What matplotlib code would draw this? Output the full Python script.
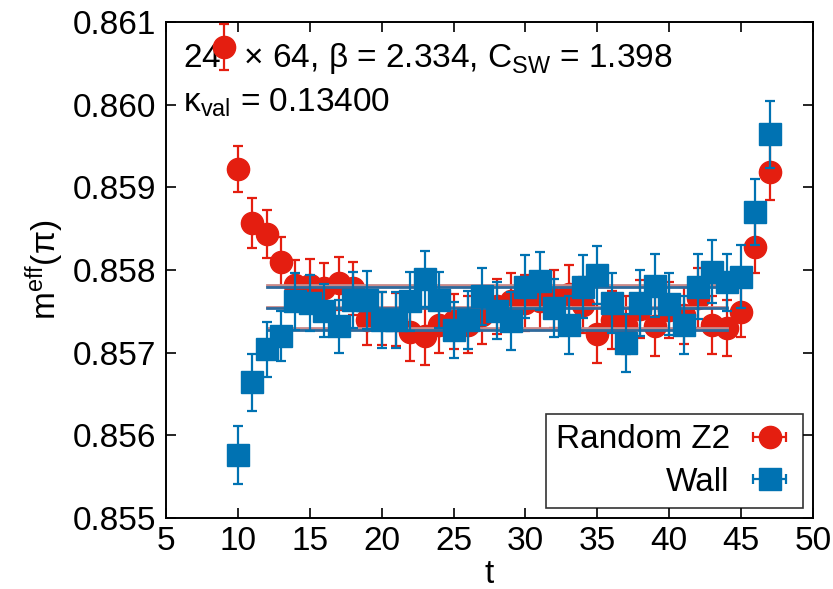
import matplotlib.pyplot as plt
import numpy as np

plt.rcParams.update({'font.size': 24, 'font.family': ['Liberation Sans', 'DejaVu Sans'],
                     'mathtext.fontset': 'custom', 'mathtext.rm': 'Liberation Sans',
                     'mathtext.it': 'Liberation Sans', 'mathtext.sf': 'Liberation Sans'})

# Random Z2 source
t_z2 = np.arange(9, 48)
m_z2 = [0.86070, 0.85922, 0.85857, 0.85844, 0.85810, 0.85782, 0.85782, 0.85778,
        0.85784, 0.85778, 0.85740, 0.85741, 0.85740, 0.85725, 0.85720, 0.85733,
        0.85738, 0.85734, 0.85745, 0.85756, 0.85762, 0.85760, 0.85762, 0.85765,
        0.85771, 0.85758, 0.85723, 0.85740, 0.85733, 0.85753, 0.85732, 0.85752,
        0.85745, 0.85766, 0.85733, 0.85730, 0.85749, 0.85828, 0.85919]
e_z2 = [0.00028, 0.00028, 0.00030, 0.00029, 0.00030, 0.00030, 0.00031, 0.00031,
        0.00032, 0.00032, 0.00031, 0.00032, 0.00032, 0.00035, 0.00035, 0.00033,
        0.00033, 0.00034, 0.00034, 0.00033, 0.00034, 0.00034, 0.00034, 0.00035,
        0.00035, 0.00034, 0.00036, 0.00035, 0.00035, 0.00035, 0.00036, 0.00034,
        0.00035, 0.00036, 0.00035, 0.00034, 0.00030, 0.00031, 0.00034]

# Wall source
t_wall = np.arange(10, 48)
m_wall = [0.85576, 0.85664, 0.85704, 0.85720, 0.85762, 0.85760, 0.85751, 0.85732,
          0.85764, 0.85764, 0.85740, 0.85740, 0.85762, 0.85789, 0.85764, 0.85727,
          0.85740, 0.85768, 0.85751, 0.85738, 0.85780, 0.85787, 0.85754, 0.85733,
          0.85780, 0.85794, 0.85760, 0.85712, 0.85760, 0.85781, 0.85759, 0.85734,
          0.85780, 0.85798, 0.85785, 0.85792, 0.85870, 0.85964]
e_wall = [0.00035, 0.00034, 0.00033, 0.00030, 0.00034, 0.00034, 0.00032, 0.00032,
          0.00034, 0.00035, 0.00034, 0.00034, 0.00036, 0.00034, 0.00034, 0.00034,
          0.00035, 0.00034, 0.00034, 0.00035, 0.00038, 0.00035, 0.00035, 0.00035,
          0.00038, 0.00035, 0.00036, 0.00035, 0.00040, 0.00038, 0.00038, 0.00035,
          0.00039, 0.00038, 0.00034, 0.00038, 0.00040, 0.00040]

# plateau fits
fit_range = [12, 44]
fit_z2, fit_z2_err = 0.857555, 0.00026
fit_wall, fit_wall_err = 0.85754, 0.00026

red = '#e41e10'
blue = '#0072b2'
fitc = '#2f6a9c'

fig = plt.figure(figsize=(8.33, 5.89), dpi=100)
ax = fig.add_axes([0.1993, 0.1205, 0.7767, 0.8421])

ax.errorbar(t_z2, m_z2, yerr=e_z2, fmt='o', color=red, ms=16, elinewidth=1.6,
            capsize=3.5, capthick=1.6, zorder=3)
for v in [fit_z2 - fit_z2_err, fit_z2, fit_z2 + fit_z2_err]:
    ax.plot(fit_range, [v, v], color='#c98a8a', lw=2, zorder=4)
for v in [fit_wall - fit_wall_err, fit_wall, fit_wall + fit_wall_err]:
    ax.plot(fit_range, [v, v], color=fitc, lw=2, zorder=5)
ax.errorbar(t_wall, m_wall, yerr=e_wall, fmt='s', color=blue, ms=15.5, elinewidth=1.6,
            capsize=3.5, capthick=1.6, zorder=6)

# legend proxies with horizontal bars like the original
h1 = ax.errorbar([np.nan], [np.nan], xerr=[1], fmt='o', color=red, ms=16,
                 elinewidth=1.6, capsize=3.5, capthick=1.6)
h2 = ax.errorbar([np.nan], [np.nan], xerr=[1], fmt='s', color=blue, ms=15.5,
                 elinewidth=1.6, capsize=3.5, capthick=1.6)
leg = ax.legend([h1, h2], ['Random Z2', 'Wall'], loc='lower right', markerfirst=False,
                frameon=True, fancybox=False, edgecolor='black', handlelength=1.4,
                borderaxespad=0.3, borderpad=0.3, labelspacing=0.35, handletextpad=0.5)
leg.get_frame().set_linewidth(1.2)
leg.set_zorder(10)

ax.text(0.026, 0.907, r'24$^3$ $\times$ 64, β = 2.334, C$_\mathrm{SW}$ = 1.398',
        transform=ax.transAxes, zorder=1)
ax.text(0.026, 0.82, r'κ$_\mathrm{val}$ = 0.13400', transform=ax.transAxes, zorder=1)

ax.set_xlim(5, 50)
ax.set_ylim(0.855, 0.861)
ax.set_xticks(np.arange(5, 51, 5))
ax.set_yticks(np.arange(0.855, 0.8611, 0.001))
ax.yaxis.set_major_formatter(plt.FormatStrFormatter('%.3f'))
ax.tick_params(direction='in', top=True, right=True, length=7, width=1.2)
ax.tick_params(axis='y', pad=7)
ax.tick_params(axis='x', pad=6)
for s in ax.spines.values():
    s.set_linewidth(1.4)
ax.set_xlabel('t', labelpad=1)
ax.set_ylabel(r'm$^\mathrm{eff}$(π)', labelpad=5)

plt.savefig('out.png', dpi=100)
